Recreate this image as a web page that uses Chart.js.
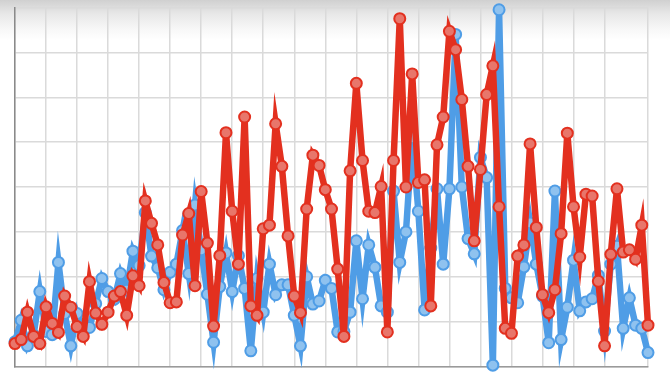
<!DOCTYPE html>
<html>
<head>
<meta charset="utf-8">
<script src="https://cdn.jsdelivr.net/npm/chart.js@4/dist/chart.umd.min.js"></script>
<style>
html,body{margin:0;padding:0;}
body{width:670px;height:374px;overflow:hidden;background:linear-gradient(to bottom,#d0d0d0 0px,#e8e8e8 14px,#f8f8f8 30px,#ffffff 40px);}
#wrap{position:relative;width:670px;height:374px;}
</style>
</head>
<body>
<div id="wrap"><canvas id="c" width="670" height="374"></canvas></div>
<script>
const redValues = [0.51,0.6,1.21,0.67,0.51,1.33,0.96,0.76,1.57,1.32,
  0.89,0.67,1.89,1.19,0.94,1.21,1.57,1.67,1.14,2.02,
  1.8,3.69,3.19,2.71,1.87,1.42,1.44,2.93,3.41,1.8,
  3.9,2.75,0.9,2.47,5.21,3.46,2.28,5.56,1.35,1.14,
  3.07,3.15,5.41,4.46,2.91,1.57,1.2,3.51,4.71,4.48,
  3.94,3.51,2.17,0.67,4.36,6.31,4.59,3.46,3.43,4.01,
  0.77,4.59,7.75,4.0,6.52,4.1,4.16,1.35,4.94,5.56,
  7.47,7.06,5.95,4.46,2.8,4.39,6.06,6.7,3.56,0.85,
  0.74,2.46,2.71,4.96,3.1,1.6,1.2,1.71,2.96,5.2,
  3.56,2.44,3.84,3.8,1.9,0.46,2.5,3.96,2.55,2.6,
  2.39,3.15,0.92];
const blueValues = [0.55,1.03,0.46,0.7,1.67,0.78,0.71,2.32,1.18,0.46,
  1.18,0.8,0.87,1.4,1.96,1.67,1.5,2.07,1.7,2.57,
  2.25,3.43,2.46,2.2,1.71,2.1,2.28,3.03,2.07,3.6,
  2.6,1.61,0.54,1.78,2.53,1.67,2.47,1.74,0.35,1.96,
  1.21,2.28,1.6,1.82,1.82,1.14,0.46,2.0,1.39,1.46,
  1.92,1.74,0.77,0.78,1.21,2.8,1.51,2.71,2.21,1.35,
  1.21,3.91,2.32,3.0,5.1,3.46,1.26,2.64,3.96,2.28,
  3.96,7.4,4.0,2.85,2.51,4.66,4.21,0.03,7.95,1.74,
  1.53,1.42,2.22,3.2,2.28,1.57,0.53,3.91,0.6,1.32,
  2.37,1.24,1.44,1.51,2.03,0.79,2.28,2.68,0.85,1.53,
  0.92,0.85,0.31];
const yTicks = [0,1,2,3,4,5,6,7,8];

const toPts = arr => arr.map((v,i)=>({x:i,y:v}));

new Chart(document.getElementById('c'), {
  type:'line',
  data:{datasets:[
    {label:'Red', data:toPts(redValues), borderColor:'#e3301f', backgroundColor:'#e86a5e',
     pointBackgroundColor:'#e8766b', pointBorderColor:'#e3301f', borderWidth:6.5,
     pointRadius:5.5, pointBorderWidth:2, tension:0, clip:false, fill:false},
    {label:'Blue', data:toPts(blueValues), borderColor:'#4f9de6', backgroundColor:'#8cc0ee',
     pointBackgroundColor:'#8fc2ef', pointBorderColor:'#4f9de6', borderWidth:6.5,
     pointRadius:5.5, pointBorderWidth:2, tension:0, clip:false, fill:false}
  ]},
  options:{
    responsive:false, animation:false,
    layout:{padding:{left:15,right:22,top:0,bottom:1}},
    plugins:{legend:{display:false},tooltip:{enabled:false}},
    scales:{
      x:{type:'linear',min:0,max:redValues.length-1,
         ticks:{display:false,stepSize:5},
         grid:{color:'#dadada',lineWidth:1.5,drawTicks:false},
         border:{color:'#9a9a9a',width:1.5}},
      y:{min:yTicks[0],max:yTicks[yTicks.length-1],
         afterBuildTicks:s=>{s.ticks=yTicks.map(v=>({value:v}));},
         ticks:{display:false},
         grid:{color:'#dadada',lineWidth:1.5,drawTicks:false},
         border:{color:'#8a8a8a',width:1.5}}
    }
  }
});
</script>
</body>
</html>
